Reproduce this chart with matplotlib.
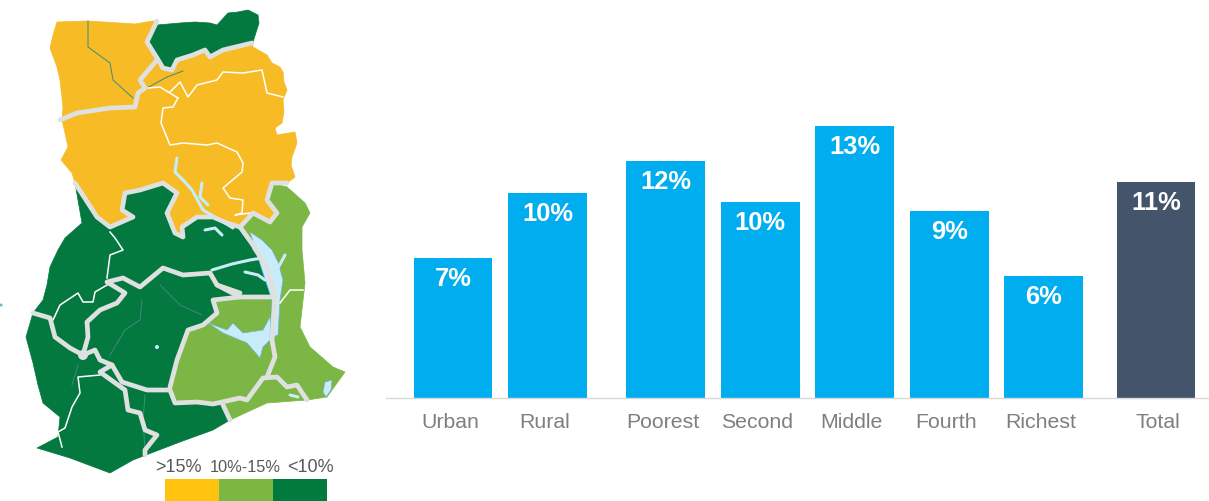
import matplotlib
matplotlib.use('Agg')
import matplotlib.pyplot as plt
from matplotlib.patches import Polygon, Rectangle, Circle
from matplotlib.transforms import ScaledTranslation

plt.rcParams['font.family'] = ['Liberation Sans', 'DejaVu Sans']

# bar chart data
categories = ['Urban', 'Rural', 'Poorest', 'Second', 'Middle', 'Fourth', 'Richest', 'Total']
positions = [0, 1, 2.25, 3.25, 4.25, 5.25, 6.25, 7.44]
heights = [6.67, 9.76, 11.29, 9.33, 12.95, 8.9, 5.81, 10.29]
labels = ['7%', '10%', '12%', '10%', '13%', '9%', '6%', '11%']

# map shapes in pixels
gold_north = [(57,22),(88,21),(120,23),(135,24),(153,21),(157,21),(147,42),(157,58),(163,68),(172,70),(177,60),(193,55),
              (205,50),(210,57),(223,50),(252,43),(253,47),(267,55),(272,63),(280,67),(283,72),(284,82),(287,90),(283,100),
              (284,112),(282,123),(275,128),(277,135),(295,132),(297,143),(292,157),(291,165),(295,177),(287,183),(272,183),
              (267,200),(277,213),(270,222),(253,213),(240,227),(227,223),(213,217),(197,217),(182,227),
              (183,237),(175,233),(167,213),(177,193),(163,183),(140,190),(125,193),(122,210),(133,217),
              (110,227),(97,217),(75,183),(72,173),(61,160),(68,147),(65,133),(62,120),(63,107),(60,80),(57,67),(50,48),(53,35)]
green_ne = [(157,25),(180,23),(195,22),(210,23),(217,25),(228,13),(238,12),(248,10),(258,15),(259,23),(253,42),(223,50),
            (210,57),(205,50),(193,55),(177,60),(172,70),(163,68),(157,58),(147,42)]
green_south = [(75,183),(82,223),(65,238),(58,250),(50,267),(47,285),(43,300),(33,313),(26,337),(33,363),(38,385),(43,403),
               (60,417),(58,437),(37,448),(70,458),(110,473),(133,460),(180,442),(213,430),(230,420),(240,400),(280,340),
               (280,250),(270,222),(253,213),(240,227),(227,223),(213,217),(197,217),(182,227),(183,237),
               (175,233),(167,213),(177,193),(163,183),(140,190),(125,193),(122,210),(133,217),(110,227),(97,217)]
light_east = [(272,183),(287,187),(305,203),(310,213),(302,227),(302,250),(305,283),(300,327),(310,347),
              (333,367),(345,372),(327,397),(307,400),(267,403),(230,420),(223,405),(175,403),(170,387),
              (177,360),(188,330),(203,325),(217,313),(213,300),(240,297),(272,297),(268,270),(253,250),
              (250,240),(240,227),(253,213),(270,222),(277,213),(267,200)]
lake_volta = [(208,323),(227,330),(233,323),(243,333),(263,330),(270,317),(273,337),(263,347),(260,358),
              (247,343),(223,333)]
lake_arm = [(250,232),(262,240),(272,250),(278,262),(283,280),(280,300),(278,335),(270,338),(272,300),(262,270)]
lagoon = [(323,392),(325,382),(332,380),(331,390),(326,397)]

grey_lines = [
    [(60,120),(77,113),(110,108),(135,107),(138,93),(145,88),(140,80),(157,60)],
    [(157,21),(147,42),(157,58),(163,68),(172,70),(177,60),(193,55),(205,50),(210,57),(223,50),(252,43)],
    [(75,183),(97,217),(110,227),(133,217),(122,210),(125,193),(140,190),(163,183),(177,193),(167,213),
     (175,233),(183,237),(182,227),(197,217),(213,217),(227,223),(240,227),(253,213),(270,222),(277,213),
     (267,200),(272,183),(287,183)],
    [(240,227),(253,245),(268,270),(275,297),(272,340),(275,357),(267,377)],
    [(33,313),(50,318),(55,337),(70,348),(83,355),(95,350),(100,360),(112,365),(122,382),(147,390),(170,390)],
    [(83,355),(88,337),(87,322),(100,310),(117,303),(125,293),(107,282),(123,278),(140,287),(163,268),
     (183,275),(210,273),(217,285),(240,293)],
    [(112,365),(100,372),(125,390),(128,410),(140,413),(145,430),(157,435),(145,450),(145,455)],
    [(170,390),(175,403),(197,402),(213,404),(240,398),(247,400),(263,378),(277,377),(287,387),(297,385),(307,400)],
    [(223,405),(230,420)],
    [(217,285),(240,297),(272,297)],
    [(240,297),(213,300),(217,313),(203,325),(188,330),(177,360),(170,387)],
]
white_lines = [
    [(148,88),(160,87),(178,98)],
    [(170,92),(180,82),(188,97),(197,85),(217,80),(223,72),(243,73),(262,70),(267,93),(283,97)],
    [(178,98),(173,107),(163,108),(161,123),(170,145),(183,143),(207,145),(217,143),(237,152),(243,163),
     (242,172),(223,188),(230,198),(243,200),(242,213),(235,215),(250,213)],
    [(110,232),(115,238),(123,250),(110,255),(107,278)],
    [(33,313),(53,320),(60,305),(78,293),(83,302),(93,302),(95,292),(107,285)],
    [(100,375),(78,377),(80,393),(72,407),(65,428),(58,432),(62,447)],
    [(280,303),(290,290),(303,290)],
]
blue_lines = [
    [(177,158),(175,172),(185,182),(192,190),(203,210),(220,220),(233,228)],
    [(202,183),(200,197),(208,205)],
    [(205,230),(215,228),(222,235)],
    [(212,270),(232,264),(250,260),(262,258)],
    [(245,272),(258,275),(265,280)],
    [(285,255),(278,268),(272,285)],
    [(290,395),(298,397)],
]
river_lines = [
    [(88,21),(88,47),(110,63),(113,80),(133,98)],
    [(147,88),(167,77),(183,71)],
    [(142,300),(140,320),(125,330),(110,355)],
    [(160,285),(180,305),(202,315)],
    [(78,365),(72,385)],
    [(145,395),(143,420),(145,450)],
]

# legend
legend_labels = ['>15%', '10%-15%', '<10%']
legend_colors = ['#ffc20e', '#7cb742', '#007a3d']
legend_text_x = [178, 245.5, 310.5]
legend_text_size = [13, 11.8, 13]

GOLD = '#f6bb25'
DARK = '#03793f'
LIGHT = '#7cb644'
GREY = '#dfe1e1'
PALE = '#c9ecfb'

fig = plt.figure(figsize=(12.09, 5.01), dpi=100)

# bars live in their own axes, baseline at y=398px
W, H = 1209.0, 501.0
ax = fig.add_axes([386 / W, (H - 398) / H, 822 / W, 290 / H])
colors = ['#00adef'] * 7 + ['#44546a']
bars = ax.bar(positions, heights, width=0.835, color=colors, linewidth=0)
ax.set_xlim(-0.709, 7.99)
ax.set_ylim(0, 290 / 21.0)
ax.set_xticks(positions)
ax.set_xticklabels(categories, fontsize=15.3, color='#7f7f7f')
ax.tick_params(axis='x', length=0, pad=11)
ax.set_yticks([])
for s in ['top', 'left', 'right']:
    ax.spines[s].set_visible(False)
ax.spines['bottom'].set_color('#d9d9d9')
ax.spines['bottom'].set_linewidth(1)
# labels in the picture sit a little left of their bars, except the last
for i, t in enumerate(ax.get_xticklabels()):
    dx = 2 / 100 if i == 7 else -3 / 100
    t.set_transform(t.get_transform() + ScaledTranslation(dx, 0, fig.dpi_scale_trans))
for b, txt in zip(bars, labels):
    ax.annotate(txt, (b.get_x() + b.get_width() / 2, b.get_height()), xytext=(0, -15),
                textcoords='offset points', ha='center', va='center',
                color='white', fontsize=18.4, fontweight='bold')

# map and legend, axes in image pixels
mp = fig.add_axes([0, 0, 1, 1])
mp.set_xlim(0, W)
mp.set_ylim(H, 0)
mp.axis('off')
mp.patch.set_alpha(0)

for shape, col in [(green_south, DARK), (light_east, LIGHT), (gold_north, GOLD), (green_ne, DARK)]:
    mp.add_patch(Polygon(shape, closed=True, facecolor=col, edgecolor=col, linewidth=0.5))
for shape in [lake_volta, lake_arm, lagoon]:
    mp.add_patch(Polygon(shape, closed=True, facecolor=PALE, edgecolor='#6db5d0', linewidth=0.5))

for line in river_lines:
    mp.plot(*zip(*line), color='#3f8a7f', linewidth=0.7)
for line in blue_lines:
    mp.plot(*zip(*line), color=PALE, linewidth=2.2, solid_capstyle='round')
for line in white_lines:
    mp.plot(*zip(*line), color='white', linewidth=1.1)
for line in grey_lines:
    mp.plot(*zip(*line), color=GREY, linewidth=3.4, solid_joinstyle='round', solid_capstyle='round')
mp.add_patch(Circle((157, 347), 2, facecolor=PALE, edgecolor='none'))
mp.add_patch(Circle((83, 355), 5, facecolor=GREY, edgecolor='none'))
mp.add_patch(Circle((1, 305), 1.5, facecolor='#6db5d0', edgecolor='none'))

for i, col in enumerate(legend_colors):
    mp.add_patch(Rectangle((165 + i * 54, 479), 54, 22, facecolor=col, linewidth=0))
for x, txt, fs in zip(legend_text_x, legend_labels, legend_text_size):
    mp.text(x, 467, txt, ha='center', va='center', fontsize=fs, color='#595959')

fig.savefig('out.png', dpi=100)
